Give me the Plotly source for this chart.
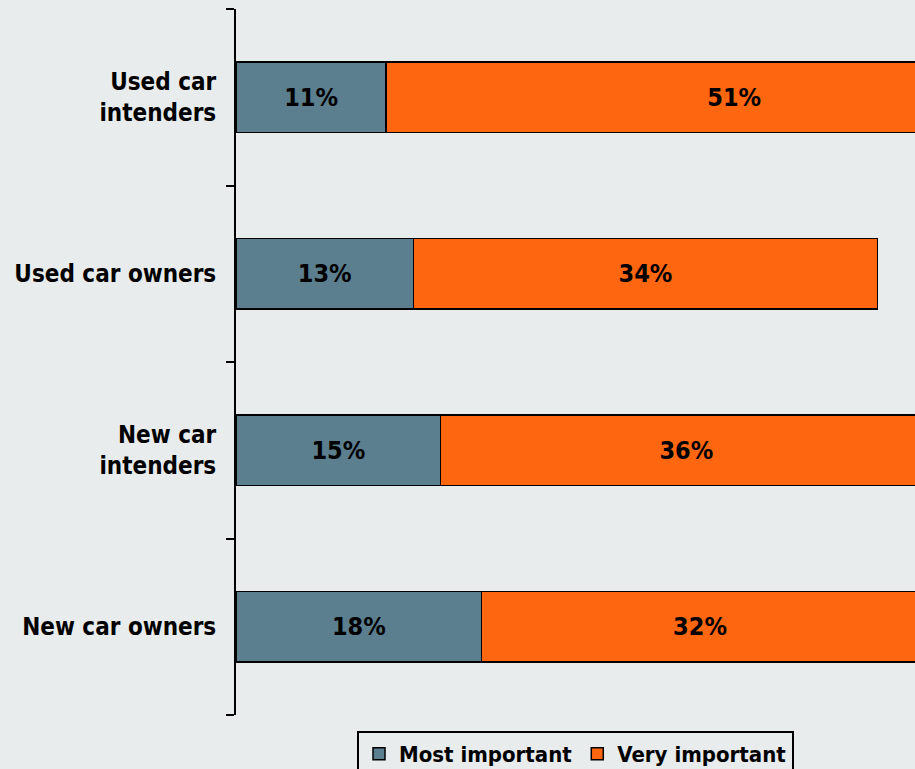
import plotly.graph_objects as go

# Survey groups (top to bottom) and share of respondents per rating, in percent
groups = ["Used car<br>intenders", "Used car owners", "New car<br>intenders", "New car owners"]
most_important = [11, 13, 15, 18]
very_important = [51, 34, 36, 32]

BG = "#E8ECEC"
FONT = "DejaVu Sans Condensed, DejaVu Sans, sans-serif"
BLUE = "#5B7F8E"
ORANGE = "#FF6610"

fig = go.Figure()
for name, vals, color in [
    ("Most important", most_important, BLUE),
    ("Very important", very_important, ORANGE),
]:
    fig.add_trace(go.Bar(
        y=groups,
        x=vals,
        name=name,
        orientation="h",
        marker=dict(color=color, line=dict(color="black", width=1.5)),
        text=[f"{v}%" for v in vals],
        textposition="inside",
        insidetextanchor="middle",
        textangle=0,
        textfont=dict(family=FONT, size=25, color="black", weight="bold"),
        constraintext="none",
        cliponaxis=True,
    ))

fig.update_layout(
    barmode="stack",
    bargap=0.6,
    width=915,
    height=769,
    margin=dict(l=236, r=0, t=9, b=54, autoexpand=False),
    paper_bgcolor=BG,
    plot_bgcolor=BG,
    font=dict(family=FONT, size=24, color="black", weight="bold"),
    legend=dict(
        orientation="h",
        traceorder="normal",
        x=0.5,
        xanchor="center",
        yref="container",
        y=1 - 731 / 769,
        yanchor="top",
        bgcolor=BG,
        bordercolor="black",
        borderwidth=2,
        font=dict(family=FONT, size=22, color="black", weight="bold"),
        itemwidth=30,
    ),
    showlegend=True,
)

fig.update_xaxes(
    range=[0, 49.75],
    visible=False,
    showgrid=False,
    zeroline=False,
)
fig.update_yaxes(
    categoryorder="array",
    categoryarray=groups[::-1],
    range=[-0.5, 3.5],
    showline=True,
    linecolor="black",
    linewidth=2,
    ticks="outside",
    tickson="boundaries",
    ticklen=8,
    tickwidth=2,
    tickcolor="black",
    showgrid=False,
    tickfont=dict(family=FONT, size=24, color="black", weight="bold"),
    ticklabelstandoff=13,
)

fig.write_html("out.html")
